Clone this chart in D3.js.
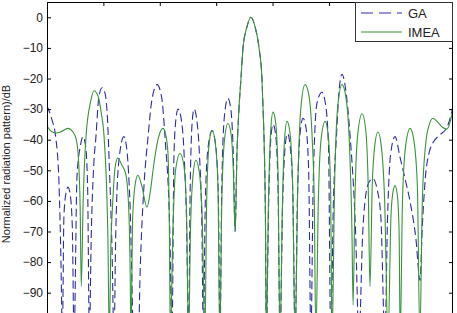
<!DOCTYPE html>
<html>
<head>
<meta charset="utf-8">
<script src="https://cdn.jsdelivr.net/npm/d3@7"></script>
<style>
  body { margin: 0; background: #fff; }
  text { font-family: "Liberation Sans", Arial, sans-serif; }
</style>
</head>
<body>
<div id="chart"></div>
<script>
// radiation pattern, GA vs IMEA (angle in degrees, level in dB)

const seriesNames = ["GA", "IMEA"];
const xTicks = [25, 50, 75, 100, 125, 150, 175];
const yTicks = [0, -10, -20, -30, -40, -50, -60, -70, -80, -90];

// main beam, both series share it
const mainBeam = [[84.2,-45],[85.1,-30],[86,-20],[86.9,-10],[88.7,-3],[90.4,0],[92.2,-3],[94,-10],[95.3,-20],[95.8,-30],[96.4,-45],[96.9,-70],[97.2,-105]];

const gaLeft = [[0,-29],[2,-33],[4,-40],[5.3,-54],[6.2,-80],[6.8,-105],
  [7.5,-65],[8.4,-57.5],[9.3,-55.5],[10.2,-57.5],[11.2,-68],[12,-105],
  [13.3,-52],[14.8,-42],[16,-39],[17.1,-42],[18,-55],[18.8,-105],
  [19.6,-72],[20.6,-50],[21.7,-39],[23,-26],[24.4,-23],[25.8,-25],[26.8,-33],[27.6,-48],[28.8,-75],[29.7,-105],
  [30.5,-70],[32,-46],[34.1,-39],[35.5,-44],[36.8,-61],[38.5,-105],
  [40.5,-105],[41.3,-83],[43,-55],[44.8,-39],[46.5,-27],[48.8,-22],[50.8,-26],[52.3,-39],[54.5,-72],[55.4,-105],
  [56.3,-45],[57.2,-33],[58.1,-30],[59.2,-32],[60.8,-45],[62,-72],[62.7,-105],
  [63.5,-55],[64.3,-35],[65.2,-30],[66.3,-33],[67.6,-45],[68.7,-70],[69.3,-105],
  [70.2,-60],[71.5,-42],[73.2,-37],[74.8,-42],[76,-60],[76.7,-105],
  [77.5,-55],[78.7,-32],[80.2,-26.5],[81.5,-30],[82.6,-45],[83.4,-70]];

const gaRight = [[98.3,-60],[99.2,-40],[100.2,-35],[101.3,-38],[102.4,-55],[103.3,-105],
  [104.5,-60],[105.5,-43],[106.6,-38],[107.8,-42],[109,-58],[110,-105],
  [111,-60],[112.2,-38],[113.5,-33],[114.8,-36],[116,-50],[117,-105],
  [118,-55],[119.7,-28],[121.9,-24.5],[123.4,-28],[124.8,-42],[125.8,-105],
  [127,-60],[128.4,-38],[129.5,-24],[130.8,-18.6],[132.3,-23],[134.3,-38],[136.8,-70],[138.3,-105],
  [140,-70],[141,-60],[142.7,-54],[144.5,-52.7],[146.3,-56],[148,-65],[149.8,-105],
  [151,-65],[152.3,-45],[154.3,-39],[156.5,-45.7],[158.5,-52],[160.9,-60],[163.5,-72],[165.4,-86],
  [166.3,-70],[167.8,-52],[169.5,-44],[171.1,-41],[174,-38.5],[177.3,-36],[178.7,-33],[180,-29]];

const imeaLeft = [[0,-35.5],[2,-37.3],[4,-37.8],[6,-37.5],[9.3,-36.3],[11.5,-37.5],[13,-40],[14,-47],[14.7,-62],[15.2,-88],
  [16,-61],[17.3,-39],[19.5,-27],[20.8,-24],[22.5,-25.5],[24,-31],[25.3,-39],[27,-72],[27.6,-105],
  [28.3,-75],[29.1,-61],[30.2,-49],[31.4,-46],[33,-48],[35,-51.5],[36.2,-62],[36.9,-85],[37.2,-105],
  [38,-65],[39.2,-54],[40.3,-51.6],[42,-55],[44.3,-62],[46,-56],[47,-50],[49.2,-40],[51.4,-36.3],[52.5,-38],[53.6,-44],[54.2,-65],[54.7,-105],
  [55.8,-70],[57,-50],[59,-44.5],[60.6,-48],[61.8,-62],[62.8,-105],
  [63.6,-70],[64.7,-52],[66,-46.7],[67.4,-50],[68.8,-65],[70,-105],
  [70.8,-60],[71.8,-42],[73.2,-37],[74.6,-41],[75.8,-55],[76.6,-105],
  [77.5,-60],[78.7,-40],[80.2,-34.7],[81.6,-38],[82.6,-50],[83.4,-70]];

const imeaRight = [[98.2,-60],[99.1,-38],[100.2,-31],[101.3,-34],[102.4,-50],[103.3,-105],
  [104.4,-60],[105.3,-40],[106.4,-34],[107.6,-37],[108.9,-55],[110,-105],
  [111.2,-55],[112.5,-30],[114.4,-22],[116,-25],[117.6,-40],[118.5,-60],[119.2,-105],
  [120.3,-60],[121.5,-40],[123.3,-34],[124.6,-38],[125.7,-55],[126.4,-105],
  [127.5,-55],[128.8,-30],[130.8,-22],[132.5,-26],[134,-40],[135.2,-70],[135.7,-94],
  [136.5,-60],[137.8,-38],[139.7,-31.5],[141.2,-36],[142.4,-55],[143.2,-88],
  [144.2,-55],[145.3,-42],[146.7,-37.5],[148.2,-42],[149.7,-60],[151.2,-105],
  [152.5,-65],[153.4,-57],[154.3,-55],[155.3,-58],[156.1,-70],[156.6,-105],
  [157.6,-60],[159,-42],[161,-36.3],[162.6,-40],[164.2,-55],[165.3,-105],
  [166.4,-60],[167.8,-42],[169.5,-35],[171.1,-33],[173.5,-34.5],[175.5,-36],[177.3,-36.5],[178.8,-34],[180,-30]];

const gaPoints = gaLeft.concat(mainBeam, gaRight);
const imeaPoints = imeaLeft.concat(mainBeam, imeaRight);

const width = 457, height = 313;
// plot box runs past the bottom of the picture (cropped like the original)
const plot = {left: 47, top: 2, right: 453, bottom: 323.3};

const svg = d3.select("#chart").append("svg")
    .attr("width", width)
    .attr("height", height)
    .style("background-color", "#ffffff");

const x = d3.scaleLinear().domain([0, 180]).range([plot.left, plot.right]);
const y = d3.scaleLinear().domain([5, -100]).range([plot.top, plot.bottom]);

svg.append("clipPath").attr("id", "clip")
  .append("rect")
    .attr("x", plot.left).attr("y", plot.top)
    .attr("width", plot.right - plot.left).attr("height", plot.bottom - plot.top);

const line = d3.line()
    .x(d => x(d[0]))
    .y(d => y(d[1]))
    .curve(d3.curveMonotoneX);

const g = svg.append("g").attr("clip-path", "url(#clip)");

g.append("path")
    .datum(gaPoints)
    .attr("d", line)
    .attr("fill", "none")
    .attr("stroke", "#2c2ca0")
    .attr("stroke-width", 1.1)
    .attr("stroke-dasharray", "8,4");

g.append("path")
    .datum(imeaPoints)
    .attr("d", line)
    .attr("fill", "none")
    .attr("stroke", "#3a933a")
    .attr("stroke-width", 1.1);

// axes, ticks point inward
const yLeft = d3.axisLeft(y).tickValues(yTicks).tickSize(-4).tickPadding(4);
svg.append("g")
    .attr("transform", `translate(${plot.left},0)`)
    .call(yLeft)
    .call(a => a.select(".domain").remove())
    .call(a => a.selectAll("text").attr("font-size", 12).attr("fill", "#222")
      .attr("font-family", "'Liberation Sans', Arial, sans-serif"));

svg.append("g")
    .attr("transform", `translate(${plot.right},0)`)
    .call(d3.axisRight(y).tickValues(yTicks).tickSize(-4).tickFormat(""))
    .call(a => a.select(".domain").remove());

svg.append("g")
    .attr("transform", `translate(0,${plot.top})`)
    .call(d3.axisTop(x).tickValues(xTicks).tickSize(-4).tickFormat(""))
    .call(a => a.select(".domain").remove());

svg.append("rect")
    .attr("x", plot.left + 0.5).attr("y", plot.top + 0.5)
    .attr("width", plot.right - plot.left - 1).attr("height", plot.bottom - plot.top)
    .attr("fill", "none").attr("stroke", "#000");

svg.append("text")
    .attr("transform", `translate(10,164) rotate(-90)`)
    .attr("text-anchor", "middle")
    .attr("font-size", 11)
    .attr("fill", "#222")
    .text("Normalized radiation pattern)/dB");

// legend
const lg = svg.append("g");
lg.append("rect")
    .attr("x", 355.5).attr("y", 2.5).attr("width", 97).attr("height", 39)
    .attr("fill", "#fff").attr("stroke", "#333");

const legendStyles = [
  {color: "#2c2ca0", dash: "12,6"},
  {color: "#3a933a", dash: null}
];
seriesNames.forEach((name, i) => {
  const yy = 13 + i * 19;
  lg.append("line")
      .attr("x1", 361).attr("x2", 402).attr("y1", yy).attr("y2", yy)
      .attr("stroke", legendStyles[i].color)
      .attr("stroke-width", 1.1)
      .attr("stroke-dasharray", legendStyles[i].dash);
  lg.append("text")
      .attr("x", 408).attr("y", yy + 4.5)
      .attr("font-size", 13)
      .attr("fill", "#222")
      .text(name);
});
</script>
</body>
</html>
